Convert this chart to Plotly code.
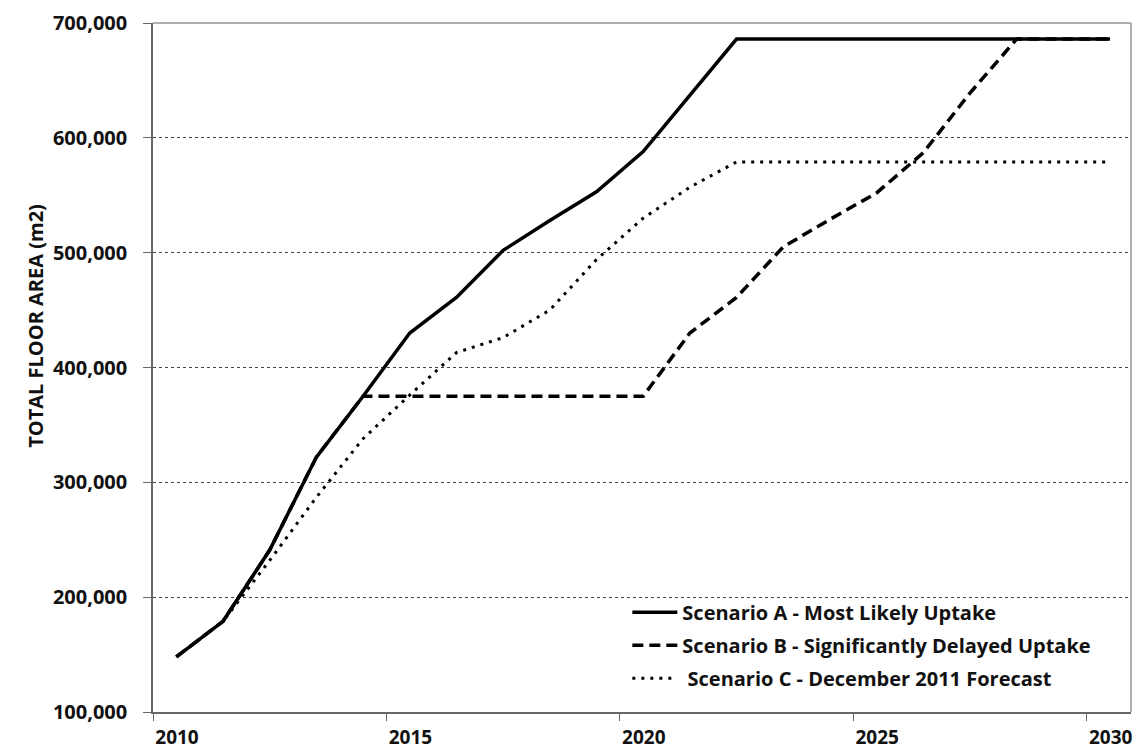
import plotly.graph_objects as go

# Periods (financial years 2010/11 ... 2030/31, plotted at mid-year)
periods = list(range(2010, 2031))
x_mid = [p + 0.5 for p in periods]

scenario_a = [148000, 179000, 241000, 322000, 375000, 430000, 461000, 502000, 528000,
              553000, 588000, 637000, 686000, 686000, 686000, 686000, 686000, 686000,
              686000, 686000, 686000]
scenario_b = [148000, 179000, 241000, 322000, 375000, 375000, 375000, 375000, 375000,
              375000, 375000, 430000, 461000, 505000, 529000, 552000, 587000, 639000,
              686000, 686000, 686000]
scenario_c = [148000, 179000, 232000, 287000, 338000, 376000, 413000, 426000, 450000,
              494000, 530000, 557000, 579000, 579000, 579000, 579000, 579000, 579000,
              579000, 579000, 579000]

names = ["Scenario A - Most Likely Uptake",
         "Scenario B - Significantly Delayed Uptake",
         "Scenario C - December 2011 Forecast"]

x_ticks = [2010, 2015, 2020, 2025, 2030]
y_ticks = [100000, 200000, 300000, 400000, 500000, 600000, 700000]

FONT = "Open Sans"
INK = "#111111"

fig = go.Figure()
fig.add_trace(go.Scatter(x=x_mid, y=scenario_c, mode="lines", name=" " + names[2],
                         legendgroup="c", legendrank=3,
                         line=dict(color="black", width=3, dash="3px,6px")))
fig.add_trace(go.Scatter(x=x_mid, y=scenario_b, mode="lines", name=names[1],
                         legendgroup="b", legendrank=2,
                         line=dict(color="black", width=3.5, dash="11px,6px")))
fig.add_trace(go.Scatter(x=x_mid, y=scenario_a, mode="lines", name=names[0],
                         legendgroup="a", legendrank=1,
                         line=dict(color="black", width=3.5)))

# page body has an 8px margin, so the figure is shifted; compensate in the margins
fig.update_layout(
    width=1134, height=744,
    margin=dict(l=145, r=11, t=15, b=40, autoexpand=False),
    paper_bgcolor="white", plot_bgcolor="white",
    font=dict(family=FONT, color=INK),
    showlegend=True,
    legend=dict(x=0.485, y=0.173, xanchor="left", yanchor="top",
                bgcolor="rgba(255,255,255,0)", borderwidth=0,
                traceorder="grouped", tracegroupgap=4, itemwidth=45,
                font=dict(family=FONT, size=20, color=INK, weight="bold")),
    xaxis=dict(range=[2010, 2030.95], tickvals=x_ticks, ticktext=[str(t) for t in x_ticks],
               automargin=False,
               showgrid=False, zeroline=False,
               showline=True, linecolor="#666666", linewidth=1.5,
               ticks="outside", ticklen=7, tickcolor="#666666",
               ticklabelshift=24,
               tickfont=dict(family=FONT, size=19, color=INK, weight="bold")),
    yaxis=dict(range=[100000, 700000], tickvals=y_ticks,
               ticktext=[f"{v:,}" for v in y_ticks],
               automargin=False,
               showgrid=True, gridcolor="#444444", gridwidth=1, griddash="dot",
               zeroline=False,
               showline=True, linecolor="#666666", linewidth=1.5,
               ticks="outside", ticklen=8, tickcolor="#666666",
               ticklabelstandoff=12,
               tickfont=dict(family=FONT, size=20, color=INK, weight="bold")),
    shapes=[dict(type="line", xref="paper", yref="paper", x0=0, x1=1, y0=1, y1=1,
                 line=dict(color="#b0b0b0", width=2)),
            dict(type="line", xref="paper", yref="paper", x0=1, x1=1, y0=0, y1=1,
                 line=dict(color="#b0b0b0", width=2))],
    annotations=[dict(text="TOTAL FLOOR AREA (m2)", xref="paper", yref="paper",
                      x=-0.121, y=0.56, textangle=-90, showarrow=False,
                      xanchor="center", yanchor="middle",
                      font=dict(family=FONT, size=20, color=INK, weight="bold"))],
)

fig.write_html("out.html")
